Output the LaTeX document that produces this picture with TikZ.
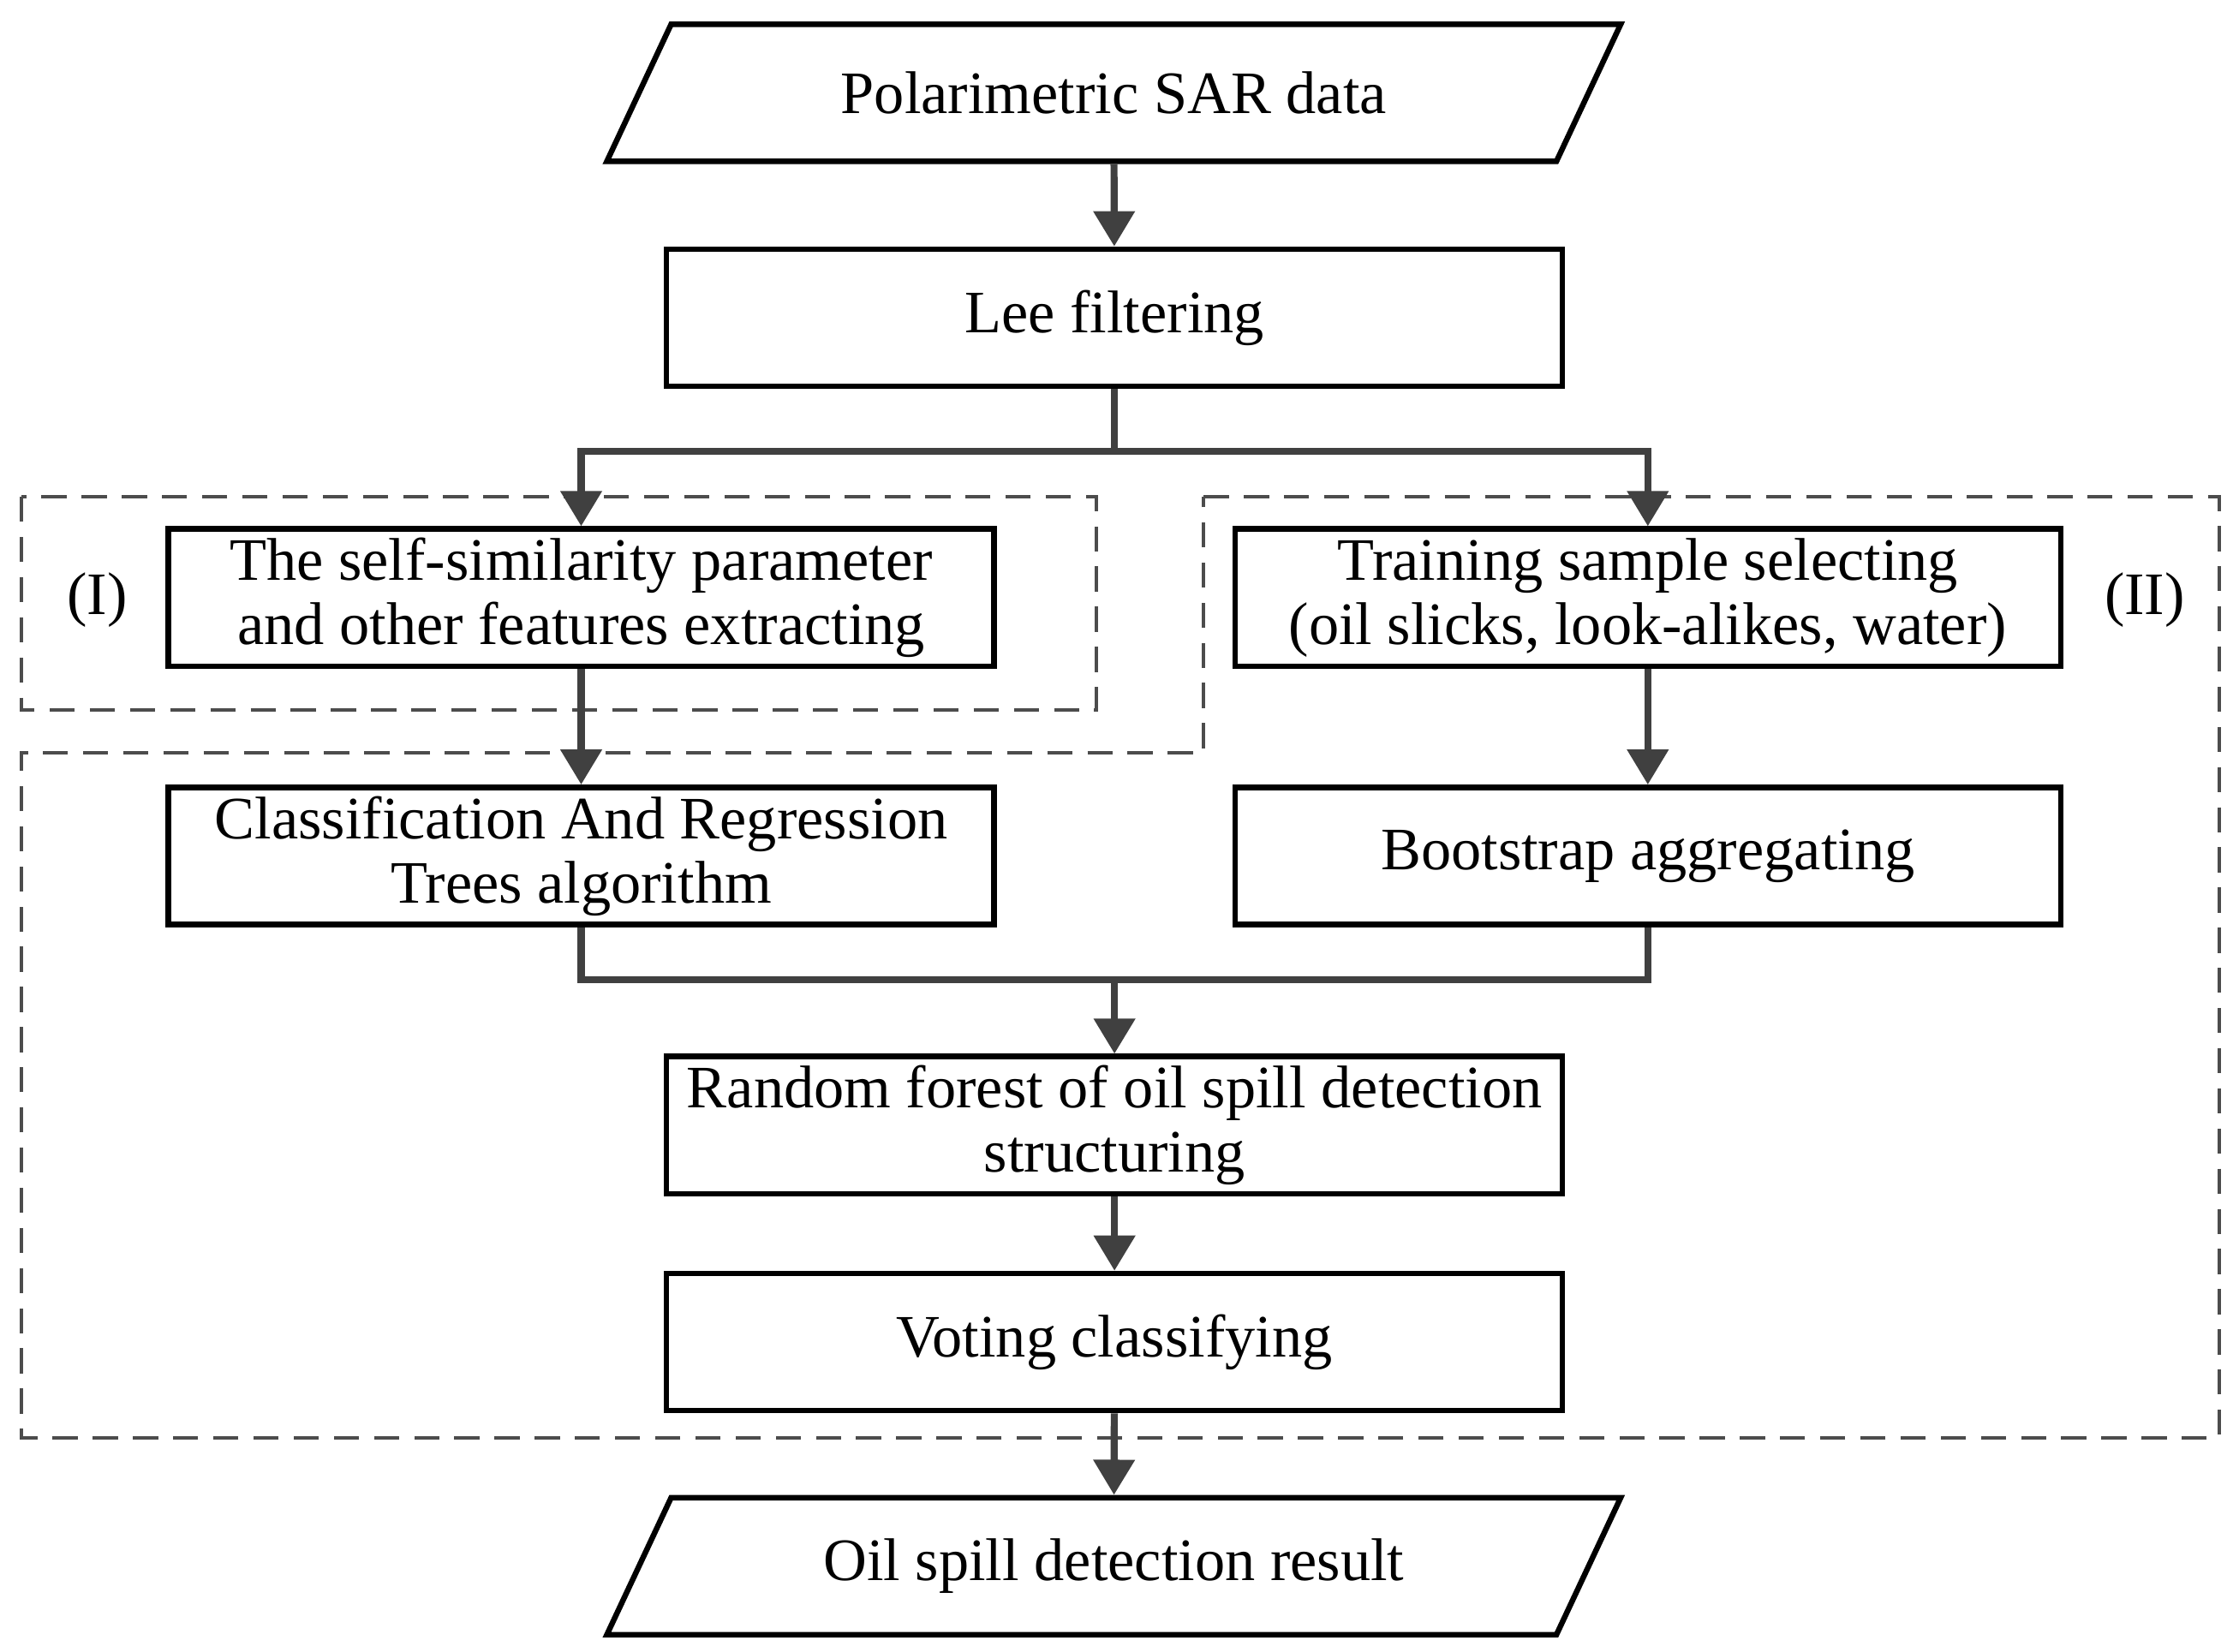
\documentclass[tikz,border=0pt]{standalone}
\usepackage{fontspec}
\setmainfont{Liberation Serif}
\usetikzlibrary{arrows.meta}
\begin{document}
\begin{tikzpicture}[x=0.01cm,y=-0.01cm,
  box/.style={draw=black,line width=1.1pt,minimum width=6.27cm,minimum height=0.96cm,align=center,inner sep=0pt,font=\fontsize{12}{12.8}\selectfont},
  wbox/.style={box,minimum width=5.78cm},
  arr/.style={draw=black!75,line width=1.4pt,-{Triangle[length=7pt,width=8pt]}},
  ln/.style={draw=black!75,line width=1.4pt},
  dashreg/.style={draw=black!70,line width=0.7pt,dash pattern=on 5pt off 3pt}]
\useasboundingbox (0,0) rectangle (1568,1157);
% parallelograms
\draw[line width=1.1pt] (470,17)--(1135,17)--(1090,113)--(425,113)--cycle;
\node[box,draw=none] (in) at (780,65) {Polarimetric SAR data};
\draw[line width=1.1pt] (470,1049)--(1135,1049)--(1090,1145)--(425,1145)--cycle;
\node[box,draw=none] (out) at (780,1097) {Oil spill detection result};
\node[box] (lee) at (780.5,222.5) {Lee filtering};
\node[wbox] (a) at (407,418.5) {The self-similarity parameter\\and other features extracting};
\node[wbox] (b) at (1154,418.5) {Training sample selecting\\(oil slicks, look-alikes, water)};
\node[wbox] (c) at (407,599.5) {Classification And Regression\\Trees algorithm};
\node[wbox] (d) at (1154,599.5) {Bootstrap aggregating};
\node[box] (e) at (780.5,788) {Random forest of oil spill detection\\structuring};
\node[box] (f) at (780.5,940) {Voting classifying};
\node[font=\fontsize{12}{12.8}\selectfont] (l1) at (68,420) {(I)};
\node[font=\fontsize{12}{12.8}\selectfont] (l2) at (1502,420) {(II)};
% dashed regions
\draw[dashreg] (15,348) rectangle (768,497);
\draw[dashreg] (843,348)--(1554,348)--(1554,1007)--(15,1007)--(15,527)--(843,527)--cycle;
% connectors
\draw[arr] (in) -- (lee);
\coordinate (s) at (780.5,316);
\draw[ln] (lee.south) -- (s);
\draw[arr] (s) -| (a.north);
\draw[arr] (s) -| (b.north);
\draw[arr] (a) -- (c);
\draw[arr] (b) -- (d);
\coordinate (m) at (780.5,686);
\draw[ln] (c.south) |- (m);
\draw[ln] (d.south) |- (m);
\draw[arr] (m) -- (e.north);
\draw[arr] (e) -- (f);
\draw[arr] (f) -- (out);
\end{tikzpicture}
\end{document}
